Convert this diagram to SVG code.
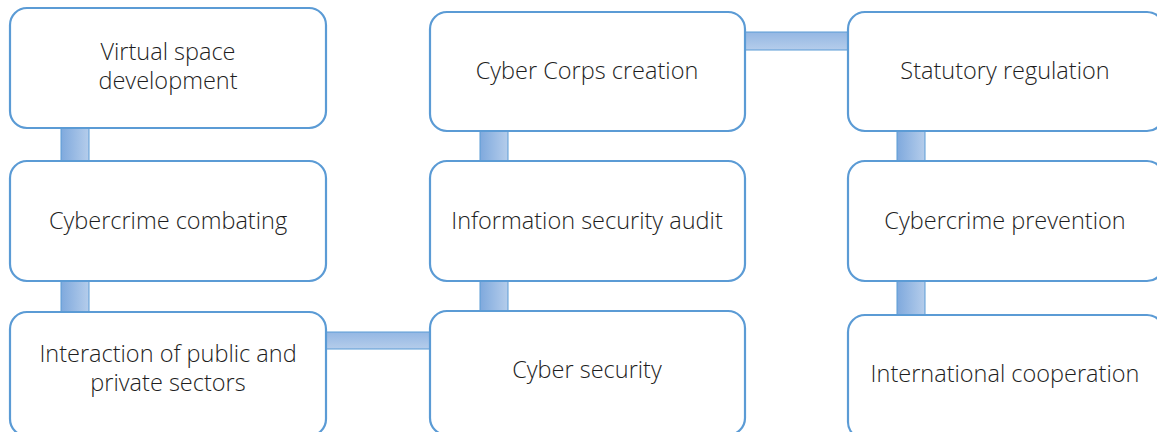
<svg xmlns="http://www.w3.org/2000/svg" width="1157" height="432" viewBox="0 0 1157 432">
<defs>
<linearGradient id="gv" x1="0" y1="0" x2="1" y2="0">
<stop offset="0" stop-color="#7FA9DD"/>
<stop offset="1" stop-color="#B5CDEB"/>
</linearGradient>
<linearGradient id="gh" x1="0" y1="0" x2="0" y2="1">
<stop offset="0" stop-color="#94B7E3"/>
<stop offset="1" stop-color="#B5CDEB"/>
</linearGradient>
<style>
.box{fill:#fff;stroke:#5B9BD5;stroke-width:2.2}
.cv{fill:url(#gv);stroke:#5B9BD5;stroke-width:1}
.ch{fill:url(#gh);stroke:#5B9BD5;stroke-width:1}
text{font-family:"Open Sans","Noto Sans","Liberation Sans",sans-serif;font-size:23.5px;font-weight:300;fill:#1e1e1e;text-anchor:middle}
</style>
</defs>
<rect width="1157" height="432" fill="#fff"/>
<g id="connectors">
<rect class="cv" x="61" y="127" width="28" height="35"/>
<rect class="cv" x="61" y="280" width="28" height="32"/>
<rect class="cv" x="480" y="130" width="28" height="32"/>
<rect class="cv" x="480" y="280" width="28" height="32"/>
<rect class="cv" x="897" y="130" width="28" height="32"/>
<rect class="cv" x="897" y="280" width="28" height="36"/>
<rect class="ch" x="325" y="332" width="106" height="17"/>
<rect class="ch" x="744" y="32" width="105" height="18"/>
</g>
<g id="n1"><rect class="box" x="10" y="8" width="316" height="120" rx="17"/><text x="168" y="60">Virtual space</text><text x="168" y="89">development</text></g>
<g id="n2"><rect class="box" x="10" y="161" width="316" height="120" rx="17"/><text x="168" y="229">Cybercrime combating</text></g>
<g id="n3"><rect class="box" x="10" y="312" width="316" height="124" rx="17"/><text x="168" y="362">Interaction of public and</text><text x="168" y="391">private sectors</text></g>
<g id="n4"><rect class="box" x="430" y="12" width="315" height="119" rx="17"/><text x="587" y="79">Cyber Corps creation</text></g>
<g id="n5"><rect class="box" x="430" y="161" width="315" height="120" rx="17"/><text x="587" y="229">Information security audit</text></g>
<g id="n6"><rect class="box" x="430" y="311" width="315" height="124" rx="17"/><text x="587" y="378">Cyber security</text></g>
<g id="n7"><rect class="box" x="848" y="12" width="316" height="119" rx="17"/><text x="1005" y="79">Statutory regulation</text></g>
<g id="n8"><rect class="box" x="848" y="161" width="316" height="120" rx="17"/><text x="1005" y="229">Cybercrime prevention</text></g>
<g id="n9"><rect class="box" x="848" y="315" width="316" height="124" rx="17"/><text x="1005" y="382">International cooperation</text></g>
</svg>
